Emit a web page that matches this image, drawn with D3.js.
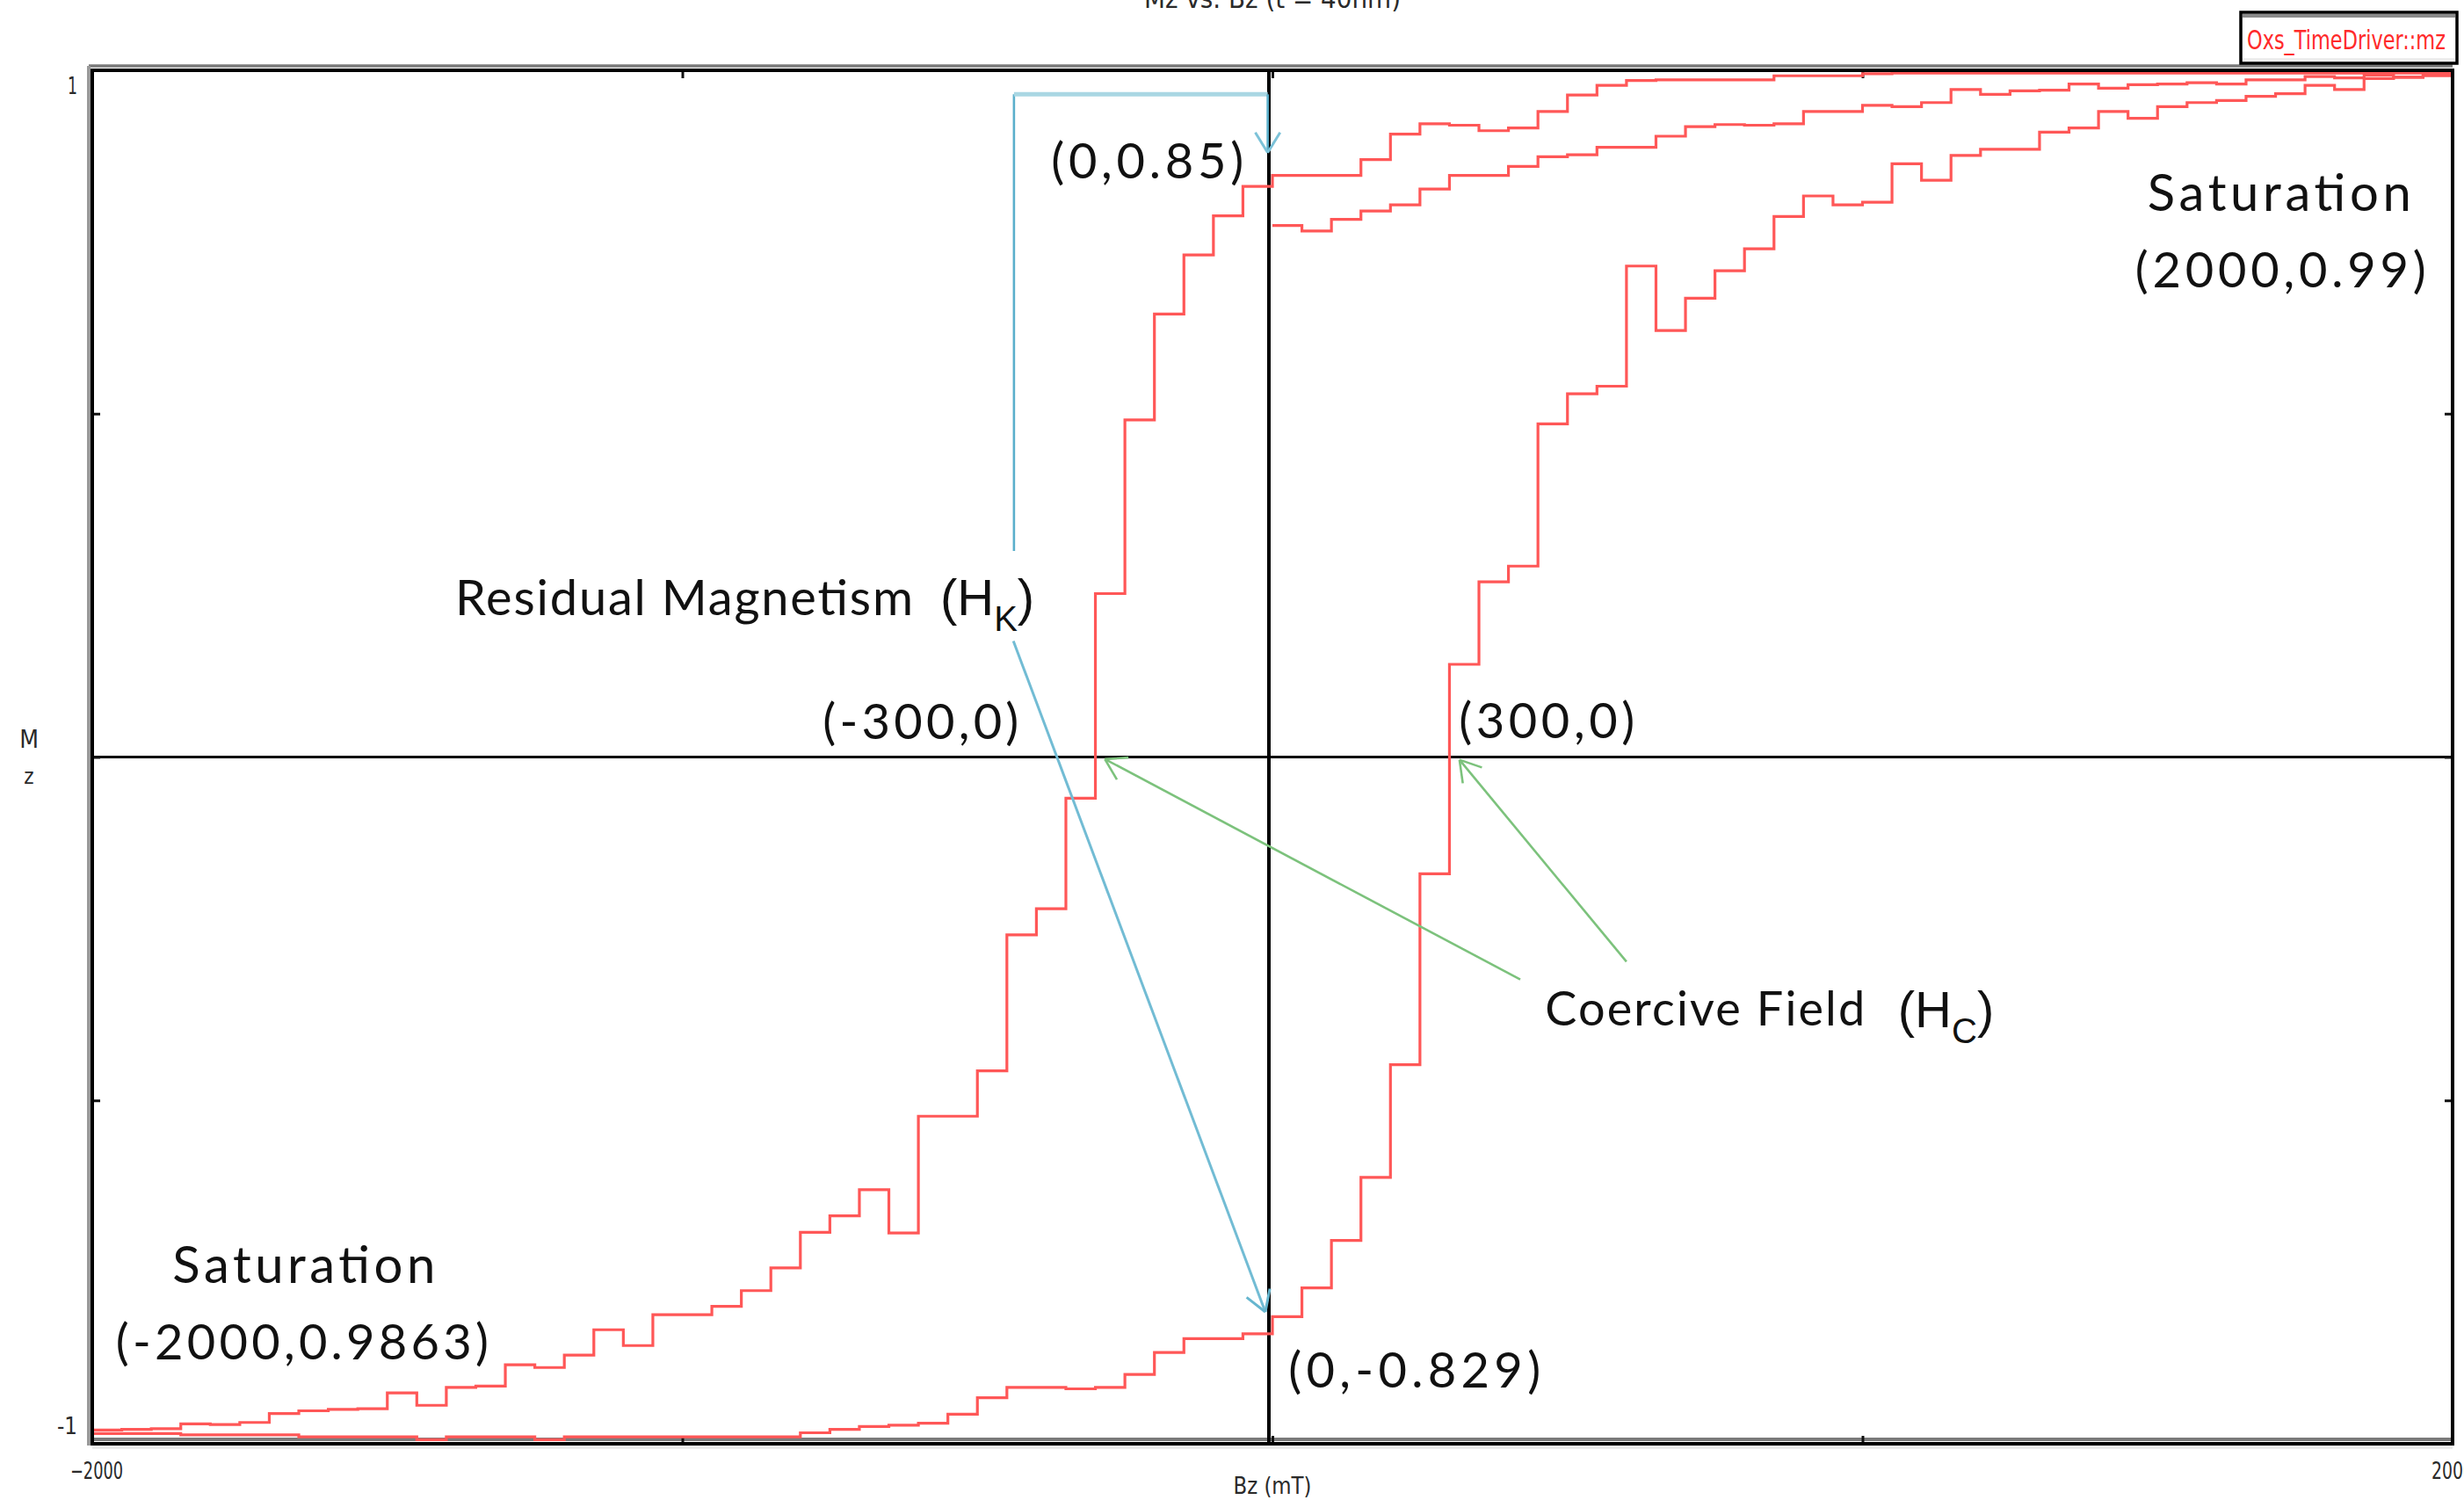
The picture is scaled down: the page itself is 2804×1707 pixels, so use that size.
<!DOCTYPE html>
<html><head><meta charset="utf-8">
<script src="https://cdn.jsdelivr.net/npm/d3@7/dist/d3.min.js"></script>
<style>
html,body{margin:0;padding:0;background:#fff;overflow:hidden}
svg{display:block}
.note{font-family:Lato,'Open Sans',sans-serif;fill:#111}
.hsym{font-family:'Liberation Sans',Arial,sans-serif;fill:#111}
.tiny{font-family:'Liberation Sans Narrow','DejaVu Sans Condensed','Liberation Sans',sans-serif;fill:#2a2a2a}
</style></head><body><div id="chart"></div>
<script>
// field steps (mT) and Mz; each value is the level held after that field step
const descField = [2000,1950,1050,1000,850,650,600,550,500,450,400,350,300,250,200,150,0,-50,-100,-150,-200,-250,-300,-350,-400,-450,-500,-600,-650,-700,-750,-800,-850,-900,-950,-1050,-1100,-1150,-1200,-1250,-1300,-1350,-1400,-1450,-1500,-1550,-1600,-1650,-1700,-1750,-1800,-1850,-1900,-1950,-2000];
const descMz = [0.998,0.996,0.995,0.992,0.986,0.985,0.978,0.964,0.940,0.916,0.912,0.920,0.922,0.907,0.870,0.847,0.831,0.788,0.731,0.645,0.491,0.238,-0.060,-0.221,-0.259,-0.457,-0.523,-0.693,-0.630,-0.668,-0.692,-0.744,-0.777,-0.800,-0.812,-0.857,-0.834,-0.871,-0.889,-0.885,-0.916,-0.918,-0.944,-0.926,-0.949,-0.950,-0.952,-0.956,-0.969,-0.972,-0.971,-0.978,-0.979,-0.980,-0.986];

const ascField = [-2000,-1850,-1650,-1450,-1400,-1250,-1200,-800,-750,-700,-650,-600,-550,-500,-450,-350,-300,-250,-200,-150,-50,0,50,100,150,200,250,300,350,400,450,500,550,600,650,700,750,800,850,900,950,1000,1050,1100,1150,1200,1300,1350,1400,1450,1500,1550,1600,1650,1700,1750,1800,1850,1900,1950,2000];
const ascMz = [-0.985,-0.987,-0.990,-0.994,-0.990,-0.994,-0.990,-0.984,-0.979,-0.975,-0.973,-0.970,-0.957,-0.933,-0.918,-0.920,-0.918,-0.899,-0.867,-0.847,-0.840,-0.815,-0.773,-0.704,-0.612,-0.448,-0.170,0.135,0.255,0.278,0.485,0.529,0.540,0.715,0.621,0.668,0.708,0.740,0.787,0.817,0.804,0.808,0.864,0.840,0.876,0.885,0.910,0.916,0.940,0.930,0.947,0.953,0.956,0.962,0.966,0.978,0.972,0.988,0.990,0.992,0.992];

const initField = [0,50,100,150,200,250,300,400,450,500,550,650,700,750,800,850,900,1000,1050,1100,1150,1200,1250,1300,1350,1400,1450,1500,1550,1600,1650,1750,1800,1850,1900,1950,2000];
const initMz = [0.774,0.766,0.783,0.795,0.804,0.827,0.847,0.860,0.874,0.877,0.888,0.904,0.918,0.921,0.920,0.922,0.940,0.949,0.947,0.953,0.972,0.965,0.970,0.971,0.980,0.974,0.979,0.980,0.982,0.980,0.986,0.991,0.989,0.993,0.990,0.994,0.995];

const xTicks = [-1000, 0, 1000];
const yTicks = [-0.5, 0, 0.5];
const xEndLabels = [-2000, 2000];
const yEndLabels = [1, -1];

// annotations, in data units
const notes = [
  { t: '(0,0.85)', b: -375, m: 0.843, fs: 56, len: 219 },
  { t: 'Saturation', b: 1483, m: 0.795, fs: 58, len: 300 },
  { t: '(2000,0.99)', b: 1462, m: 0.684, fs: 56, len: 331 },
  { t: 'Residual Magnetism', b: -1385, m: 0.207, fs: 56, len: 521 },
  { t: '(-300,0)', b: -762, m: 0.026, fs: 56, len: 223 },
  { t: '(300,0)', b: 316, m: 0.027, fs: 56, len: 200 },
  { t: 'Coercive Field', b: 462, m: -0.391, fs: 54, len: 364 },
  { t: '(0,-0.829)', b: 27, m: -0.918, fs: 56, len: 287 },
  { t: 'Saturation', b: -1864, m: -0.766, fs: 58, len: 299 },
  { t: '(-2000,0.9863)', b: -1960, m: -0.877, fs: 56, len: 424 }
];
const symbols = [
  { main: 'H', sub: 'K', b: -563, m: 0.207 },
  { main: 'H', sub: 'C', b: 1060, m: -0.394 }
];
const bracket = [[-438, 0.30], [-438, 0.965], [-8, 0.965], [-8, 0.88]];
const hkArrow = [[-439, 0.169], [-12, -0.808]];
const hcArrows = [[[420, -0.324], [-284, -0.003]], [[600, -0.298], [317, -0.004]]];

const W = 2804, H = 1707;
const x = d3.scaleLinear().domain([-2000, 2000]).range([105, 2791]);
const y = d3.scaleLinear().domain([-1, 1]).range([1643, 80]);

const svg = d3.select('#chart').append('svg').attr('width', W).attr('height', H);

// frame shading
svg.append('line').attr('x1', x(-2000) - 4).attr('x2', x(2000)).attr('y1', y(1) - 5).attr('y2', y(1) - 5)
  .attr('stroke', '#7a7a7a').attr('stroke-width', 3.5);
svg.append('line').attr('x1', x(-2000) - 4).attr('x2', x(-2000) - 4).attr('y1', y(1) - 5).attr('y2', y(-1) + 2)
  .attr('stroke', '#9a9a9a').attr('stroke-width', 4);
svg.append('line').attr('x1', x(-2000)).attr('x2', x(2000)).attr('y1', y(-1) - 5).attr('y2', y(-1) - 5)
  .attr('stroke', '#7a7a7a').attr('stroke-width', 4);
svg.append('line').attr('x1', x(-2000)).attr('x2', x(2000)).attr('y1', y(-1) + 4).attr('y2', y(-1) + 4)
  .attr('stroke', '#ececec').attr('stroke-width', 4);

// zero axes
svg.append('line').attr('x1', x(-2000)).attr('x2', x(2000)).attr('y1', y(0)).attr('y2', y(0))
  .attr('stroke', '#000').attr('stroke-width', 3);
svg.append('line').attr('x1', x(0) - 4).attr('x2', x(0) - 4).attr('y1', y(1)).attr('y2', y(-1))
  .attr('stroke', '#000').attr('stroke-width', 4);

// inner ticks on all four sides
const tk = g => g.call(s => s.select('.domain').remove()).selectAll('line').attr('stroke', '#111').attr('stroke-width', 3);
svg.append('g').attr('transform', `translate(0,${y(-1)})`).call(d3.axisBottom(x).tickValues(xTicks).tickSize(-9).tickFormat('')).call(tk);
svg.append('g').attr('transform', `translate(0,${y(1)})`).call(d3.axisTop(x).tickValues(xTicks).tickSize(-9).tickFormat('')).call(tk);
svg.append('g').attr('transform', `translate(${x(-2000)},0)`).call(d3.axisLeft(y).tickValues(yTicks).tickSize(-9).tickFormat('')).call(tk);
svg.append('g').attr('transform', `translate(${x(2000)},0)`).call(d3.axisRight(y).tickValues(yTicks).tickSize(-9).tickFormat('')).call(tk);

// curves
const line = d3.line().x(d => x(d[0])).y(d => y(d[1])).curve(d3.curveStepAfter);
const series = [
  initField.map((b, i) => [b, initMz[i]]),
  descField.map((b, i) => [b, descMz[i]]),
  ascField.map((b, i) => [b, ascMz[i]])
];
svg.append('g').selectAll('path').data(series).join('path')
  .attr('d', line).attr('fill', 'none').attr('stroke', '#ff5757').attr('stroke-width', 3.2)
  .attr('stroke-linejoin', 'miter');

// frame
svg.append('rect').attr('x', x(-2000)).attr('y', y(1)).attr('width', x(2000) - x(-2000)).attr('height', y(-1) - y(1))
  .attr('fill', 'none').attr('stroke', '#000').attr('stroke-width', 4);

// axis labels
svg.append('text').attr('class', 'tiny').attr('x', x(0)).attr('y', 9).attr('text-anchor', 'middle')
  .attr('font-size', 30).attr('textLength', 292).attr('lengthAdjust', 'spacingAndGlyphs').attr('fill', '#444')
  .text('Mz vs. Bz (t = 40nm)');
svg.selectAll('text.xl').data(xEndLabels).join('text').attr('class', 'tiny xl')
  .attr('x', d => x(d) + (d < 0 ? 5 : 0)).attr('y', 1683).attr('text-anchor', 'middle').attr('font-size', 27)
  .attr('textLength', d => d < 0 ? 60 : 48).attr('lengthAdjust', 'spacingAndGlyphs')
  .text(d => d3.format('d')(d));
svg.append('text').attr('class', 'tiny').attr('x', x(0)).attr('y', 1700).attr('text-anchor', 'middle')
  .attr('font-size', 27).attr('textLength', 89).attr('lengthAdjust', 'spacingAndGlyphs').text('Bz (mT)');
svg.selectAll('text.yl').data(yEndLabels).join('text').attr('class', 'tiny yl')
  .attr('x', 88).attr('y', d => y(d) + (d > 0 ? 27 : -11)).attr('text-anchor', 'end').attr('font-size', 27)
  .attr('textLength', d => d > 0 ? 11 : 23).attr('lengthAdjust', 'spacingAndGlyphs').text(d => d);
svg.append('text').attr('class', 'tiny').attr('x', 33).attr('y', 851).attr('text-anchor', 'middle')
  .attr('font-size', 28).text('M');
svg.append('text').attr('class', 'tiny').attr('x', 33).attr('y', 892).attr('text-anchor', 'middle')
  .attr('font-size', 24).text('z');

// legend box
const lg = svg.append('g');
lg.append('rect').attr('x', 2550).attr('y', 14).attr('width', 246).attr('height', 58)
  .attr('fill', '#fff').attr('stroke', '#000').attr('stroke-width', 3.5);
lg.append('line').attr('x1', 2552).attr('x2', 2794).attr('y1', 18).attr('y2', 18).attr('stroke', '#8a8a8a').attr('stroke-width', 4);
lg.append('line').attr('x1', 2552).attr('x2', 2794).attr('y1', 68).attr('y2', 68).attr('stroke', '#eeeeee').attr('stroke-width', 4);
lg.append('text').attr('class', 'tiny').attr('x', 2557).attr('y', 56).attr('font-size', 30)
  .attr('textLength', 226).attr('lengthAdjust', 'spacingAndGlyphs')
  .style('fill', '#ff2a2a').text('Oxs_TimeDriver::mz');

// annotation arrows
const ann = svg.append('g').attr('fill', 'none');
function head(x1, y1, x2, y2, color, w) {
  const a = Math.atan2(y2 - y1, x2 - x1), L = 27, s = 0.55;
  [a + Math.PI - s, a + Math.PI + s].forEach(t => {
    ann.append('line').attr('x1', x2).attr('y1', y2)
      .attr('x2', x2 + L * Math.cos(t)).attr('y2', y2 + L * Math.sin(t))
      .attr('stroke', color).attr('stroke-width', w);
  });
}
const bp = bracket.map(d => [x(d[0]), y(d[1])]);
ann.append('line').attr('x1', bp[0][0]).attr('y1', bp[0][1]).attr('x2', bp[1][0]).attr('y2', bp[1][1])
  .attr('stroke', '#5aafcb').attr('stroke-width', 2.6);
ann.append('line').attr('x1', bp[1][0]).attr('y1', bp[1][1]).attr('x2', bp[2][0]).attr('y2', bp[2][1])
  .attr('stroke', '#a9d7e3').attr('stroke-width', 5);
ann.append('line').attr('x1', bp[2][0]).attr('y1', bp[2][1]).attr('x2', bp[3][0]).attr('y2', bp[3][1])
  .attr('stroke', '#5aafcb').attr('stroke-width', 2.6);
head(bp[2][0], bp[2][1], bp[3][0], bp[3][1], '#7cc2d8', 3);

const hk = hkArrow.map(d => [x(d[0]), y(d[1])]);
ann.append('line').attr('x1', hk[0][0]).attr('y1', hk[0][1]).attr('x2', hk[1][0]).attr('y2', hk[1][1])
  .attr('stroke', '#72bcd4').attr('stroke-width', 3);
head(hk[0][0], hk[0][1], hk[1][0], hk[1][1], '#66b6cf', 3);

hcArrows.forEach(seg => {
  const p = seg.map(d => [x(d[0]), y(d[1])]);
  ann.append('line').attr('x1', p[0][0]).attr('y1', p[0][1]).attr('x2', p[1][0]).attr('y2', p[1][1])
    .attr('stroke', '#7cc27c').attr('stroke-width', 2.6);
  head(p[0][0], p[0][1], p[1][0], p[1][1], '#7cc27c', 2.6);
});

// annotation texts
svg.append('g').selectAll('text').data(notes).join('text').attr('class', 'note')
  .attr('x', d => x(d.b)).attr('y', d => y(d.m)).attr('font-size', d => d.fs)
  .attr('textLength', d => d.len).attr('lengthAdjust', 'spacing')
  .text(d => d.t);

const sy = svg.append('g').selectAll('text').data(symbols).join('text').attr('class', 'hsym')
  .attr('x', d => x(d.b)).attr('y', d => y(d.m)).attr('font-size', 58);
sy.append('tspan').text(d => '(' + d.main);
sy.append('tspan').attr('font-size', 40).attr('dy', 18).text(d => d.sub);
sy.append('tspan').attr('dy', -18).text(')');
</script></body></html>
